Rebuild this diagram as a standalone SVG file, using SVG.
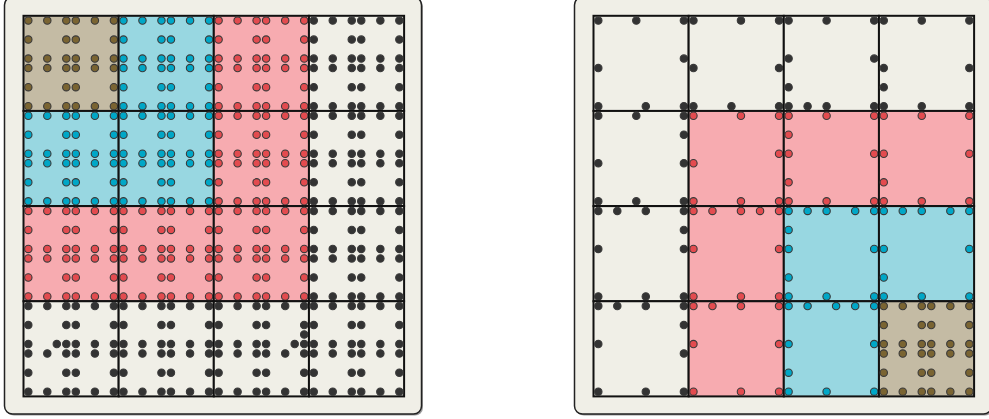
<svg xmlns="http://www.w3.org/2000/svg" xmlns:xlink="http://www.w3.org/1999/xlink" width="989" height="419" viewBox="0 0 989 419">
<style>
.panel{fill:#f0efe7;stroke:#222;stroke-width:1.5}
.shadow{fill:#9a9a9a}
.cell{stroke:#111;stroke-width:2}
.fw{fill:#f0efe7}.fr{fill:#f7abb0}.fb{fill:#98d7e1}.fo{fill:#c4bba4}
.dd{fill:#333}.dr{fill:#e34b4f}.db{fill:#00a7c7}.do{fill:#7a6432}
.pts{stroke:#3a3a3a;stroke-width:1.1}
</style>
<defs>
<g id="fine" class="pts">
<circle cx="4.8" cy="4.8" r="3.7"/><circle cx="23.8" cy="4.8" r="3.7"/><circle cx="42.8" cy="4.8" r="3.7"/><circle cx="52.3" cy="4.8" r="3.7"/><circle cx="71.4" cy="4.8" r="3.7"/><circle cx="90.4" cy="4.8" r="3.7"/>
<circle cx="4.8" cy="23.8" r="3.7"/><circle cx="42.8" cy="23.8" r="3.7"/><circle cx="52.3" cy="23.8" r="3.7"/><circle cx="90.4" cy="23.8" r="3.7"/>
<circle cx="4.8" cy="42.8" r="3.7"/><circle cx="23.8" cy="42.8" r="3.7"/><circle cx="42.8" cy="42.8" r="3.7"/><circle cx="52.3" cy="42.8" r="3.7"/><circle cx="71.4" cy="42.8" r="3.7"/><circle cx="90.4" cy="42.8" r="3.7"/>
<circle cx="4.8" cy="52.3" r="3.7"/><circle cx="23.8" cy="52.3" r="3.7"/><circle cx="42.8" cy="52.3" r="3.7"/><circle cx="52.3" cy="52.3" r="3.7"/><circle cx="71.4" cy="52.3" r="3.7"/><circle cx="90.4" cy="52.3" r="3.7"/>
<circle cx="4.8" cy="71.4" r="3.7"/><circle cx="42.8" cy="71.4" r="3.7"/><circle cx="52.3" cy="71.4" r="3.7"/><circle cx="90.4" cy="71.4" r="3.7"/>
<circle cx="4.8" cy="90.4" r="3.7"/><circle cx="23.8" cy="90.4" r="3.7"/><circle cx="42.8" cy="90.4" r="3.7"/><circle cx="52.3" cy="90.4" r="3.7"/><circle cx="71.4" cy="90.4" r="3.7"/><circle cx="90.4" cy="90.4" r="3.7"/>
</g>
</defs>

<g id="panel-left">
<rect class="shadow" x="6" y="-1.5" width="417" height="417" rx="8"/>
<rect class="panel" x="4.5" y="-3" width="417" height="417" rx="8"/>
</g>
<g id="panel-right">
<rect class="shadow" x="576" y="-1.5" width="417" height="417" rx="8"/>
<rect class="panel" x="574.5" y="-3" width="417" height="417" rx="8"/>
</g>

<g id="left-grid">
<g id="L00" transform="translate(23.5,15.8)"><rect class="cell fo" width="95.15" height="95.15"/><use xlink:href="#fine" class="do"/></g>
<g id="L10" transform="translate(118.65,15.8)"><rect class="cell fb" width="95.15" height="95.15"/><use xlink:href="#fine" class="db"/></g>
<g id="L20" transform="translate(213.8,15.8)"><rect class="cell fr" width="95.15" height="95.15"/><use xlink:href="#fine" class="dr"/></g>
<g id="L30" transform="translate(308.95,15.8)"><rect class="cell fw" width="95.15" height="95.15"/><use xlink:href="#fine" class="dd"/></g>
<g id="L01" transform="translate(23.5,110.95)"><rect class="cell fb" width="95.15" height="95.15"/><use xlink:href="#fine" class="db"/></g>
<g id="L11" transform="translate(118.65,110.95)"><rect class="cell fb" width="95.15" height="95.15"/><use xlink:href="#fine" class="db"/></g>
<g id="L21" transform="translate(213.8,110.95)"><rect class="cell fr" width="95.15" height="95.15"/><use xlink:href="#fine" class="dr"/></g>
<g id="L31" transform="translate(308.95,110.95)"><rect class="cell fw" width="95.15" height="95.15"/><use xlink:href="#fine" class="dd"/></g>
<g id="L02" transform="translate(23.5,206.1)"><rect class="cell fr" width="95.15" height="95.15"/><use xlink:href="#fine" class="dr"/></g>
<g id="L12" transform="translate(118.65,206.1)"><rect class="cell fr" width="95.15" height="95.15"/><use xlink:href="#fine" class="dr"/></g>
<g id="L22" transform="translate(213.8,206.1)"><rect class="cell fr" width="95.15" height="95.15"/><use xlink:href="#fine" class="dr"/></g>
<g id="L32" transform="translate(308.95,206.1)"><rect class="cell fw" width="95.15" height="95.15"/><use xlink:href="#fine" class="dd"/></g>
<g id="L03" transform="translate(23.5,301.25)"><rect class="cell fw" width="95.15" height="95.15"/>
<g class="pts dd">
<circle cx="4.8" cy="4.8" r="3.7"/><circle cx="23.8" cy="4.8" r="3.7"/><circle cx="42.8" cy="4.8" r="3.7"/><circle cx="52.3" cy="4.8" r="3.7"/><circle cx="71.4" cy="4.8" r="3.7"/><circle cx="90.4" cy="4.8" r="3.7"/>
<circle cx="4.8" cy="23.8" r="3.7"/><circle cx="42.8" cy="23.8" r="3.7"/><circle cx="52.3" cy="23.8" r="3.7"/><circle cx="90.4" cy="23.8" r="3.7"/>
<circle cx="4.8" cy="42.8" r="3.7"/><circle cx="33.3" cy="42.8" r="3.7"/><circle cx="42.8" cy="42.8" r="3.7"/><circle cx="52.3" cy="42.8" r="3.7"/><circle cx="71.4" cy="42.8" r="3.7"/><circle cx="90.4" cy="42.8" r="3.7"/>
<circle cx="4.8" cy="52.3" r="3.7"/><circle cx="23.8" cy="52.3" r="3.7"/><circle cx="42.8" cy="52.3" r="3.7"/><circle cx="52.3" cy="52.3" r="3.7"/><circle cx="71.4" cy="52.3" r="3.7"/><circle cx="90.4" cy="52.3" r="3.7"/>
<circle cx="4.8" cy="71.4" r="3.7"/><circle cx="42.8" cy="71.4" r="3.7"/><circle cx="52.3" cy="71.4" r="3.7"/><circle cx="90.4" cy="71.4" r="3.7"/>
<circle cx="4.8" cy="90.4" r="3.7"/><circle cx="23.8" cy="90.4" r="3.7"/><circle cx="42.8" cy="90.4" r="3.7"/><circle cx="52.3" cy="90.4" r="3.7"/><circle cx="71.4" cy="90.4" r="3.7"/><circle cx="90.4" cy="90.4" r="3.7"/>
</g></g>
<g id="L13" transform="translate(118.65,301.25)"><rect class="cell fw" width="95.15" height="95.15"/><use xlink:href="#fine" class="dd"/></g>
<g id="L23" transform="translate(213.8,301.25)"><rect class="cell fw" width="95.15" height="95.15"/>
<g class="pts dd">
<circle cx="4.8" cy="4.8" r="3.7"/><circle cx="23.8" cy="4.8" r="3.7"/><circle cx="42.8" cy="4.8" r="3.7"/><circle cx="52.3" cy="4.8" r="3.7"/><circle cx="71.4" cy="4.8" r="3.7"/><circle cx="90.4" cy="4.8" r="3.7"/>
<circle cx="4.8" cy="23.8" r="3.7"/><circle cx="42.8" cy="23.8" r="3.7"/><circle cx="52.3" cy="23.8" r="3.7"/><circle cx="90.4" cy="23.8" r="3.7"/>
<circle cx="90.4" cy="33.3" r="3.7"/>
<circle cx="4.8" cy="42.8" r="3.7"/><circle cx="23.8" cy="42.8" r="3.7"/><circle cx="42.8" cy="42.8" r="3.7"/><circle cx="52.3" cy="42.8" r="3.7"/><circle cx="80.9" cy="42.8" r="3.7"/><circle cx="90.4" cy="42.8" r="3.7"/>
<circle cx="4.8" cy="52.3" r="3.7"/><circle cx="23.8" cy="52.3" r="3.7"/><circle cx="42.8" cy="52.3" r="3.7"/><circle cx="52.3" cy="52.3" r="3.7"/><circle cx="71.4" cy="52.3" r="3.7"/><circle cx="90.4" cy="52.3" r="3.7"/>
<circle cx="4.8" cy="71.4" r="3.7"/><circle cx="42.8" cy="71.4" r="3.7"/><circle cx="52.3" cy="71.4" r="3.7"/><circle cx="90.4" cy="71.4" r="3.7"/>
<circle cx="4.8" cy="90.4" r="3.7"/><circle cx="23.8" cy="90.4" r="3.7"/><circle cx="42.8" cy="90.4" r="3.7"/><circle cx="52.3" cy="90.4" r="3.7"/><circle cx="71.4" cy="90.4" r="3.7"/><circle cx="90.4" cy="90.4" r="3.7"/>
</g></g>
<g id="L33" transform="translate(308.95,301.25)"><rect class="cell fw" width="95.15" height="95.15"/><use xlink:href="#fine" class="dd"/></g>
</g>

<g id="right-grid">
<g id="R00" transform="translate(593.5,15.8)"><rect class="cell fw" width="95.15" height="95.15"/>
<g class="pts dd"><circle cx="4.8" cy="4.8" r="3.7"/><circle cx="42.8" cy="4.8" r="3.7"/><circle cx="90.4" cy="4.8" r="3.7"/><circle cx="90.4" cy="42.8" r="3.7"/><circle cx="4.8" cy="52.3" r="3.7"/><circle cx="4.8" cy="90.4" r="3.7"/><circle cx="52.3" cy="90.4" r="3.7"/><circle cx="90.4" cy="90.4" r="3.7"/></g></g>
<g id="R10" transform="translate(688.65,15.8)"><rect class="cell fw" width="95.15" height="95.15"/>
<g class="pts dd"><circle cx="4.8" cy="4.8" r="3.7"/><circle cx="52.3" cy="4.8" r="3.7"/><circle cx="90.4" cy="4.8" r="3.7"/><circle cx="4.8" cy="52.3" r="3.7"/><circle cx="90.4" cy="52.3" r="3.7"/><circle cx="4.8" cy="90.4" r="3.7"/><circle cx="42.8" cy="90.4" r="3.7"/><circle cx="90.4" cy="90.4" r="3.7"/></g></g>
<g id="R20" transform="translate(783.8,15.8)"><rect class="cell fw" width="95.15" height="95.15"/>
<g class="pts dd"><circle cx="4.8" cy="4.8" r="3.7"/><circle cx="42.8" cy="4.8" r="3.7"/><circle cx="90.4" cy="4.8" r="3.7"/><circle cx="4.8" cy="42.8" r="3.7"/><circle cx="90.4" cy="42.8" r="3.7"/><circle cx="4.8" cy="71.4" r="3.7"/><circle cx="4.8" cy="90.4" r="3.7"/><circle cx="23.8" cy="90.4" r="3.7"/><circle cx="42.8" cy="90.4" r="3.7"/><circle cx="90.4" cy="90.4" r="3.7"/></g></g>
<g id="R30" transform="translate(878.95,15.8)"><rect class="cell fw" width="95.15" height="95.15"/>
<g class="pts dd"><circle cx="4.8" cy="4.8" r="3.7"/><circle cx="42.8" cy="4.8" r="3.7"/><circle cx="90.4" cy="4.8" r="3.7"/><circle cx="4.8" cy="52.3" r="3.7"/><circle cx="90.4" cy="52.3" r="3.7"/><circle cx="4.8" cy="71.4" r="3.7"/><circle cx="4.8" cy="90.4" r="3.7"/><circle cx="42.8" cy="90.4" r="3.7"/><circle cx="90.4" cy="90.4" r="3.7"/></g></g>

<g id="R01" transform="translate(593.5,110.95)"><rect class="cell fw" width="95.15" height="95.15"/>
<g class="pts dd"><circle cx="4.8" cy="4.8" r="3.7"/><circle cx="42.8" cy="4.8" r="3.7"/><circle cx="90.4" cy="4.8" r="3.7"/><circle cx="90.4" cy="23.8" r="3.7"/><circle cx="4.8" cy="52.3" r="3.7"/><circle cx="90.4" cy="52.3" r="3.7"/><circle cx="4.8" cy="90.4" r="3.7"/><circle cx="42.8" cy="90.4" r="3.7"/><circle cx="90.4" cy="90.4" r="3.7"/></g></g>
<g id="R11" transform="translate(688.65,110.95)"><rect class="cell fr" width="95.15" height="95.15"/>
<g class="pts dr"><circle cx="4.8" cy="4.8" r="3.7"/><circle cx="52.3" cy="4.8" r="3.7"/><circle cx="90.4" cy="4.8" r="3.7"/><circle cx="90.4" cy="42.8" r="3.7"/><circle cx="4.8" cy="52.3" r="3.7"/><circle cx="4.8" cy="90.4" r="3.7"/><circle cx="52.3" cy="90.4" r="3.7"/><circle cx="90.4" cy="90.4" r="3.7"/></g></g>
<g id="R21" transform="translate(783.8,110.95)"><rect class="cell fr" width="95.15" height="95.15"/>
<g class="pts dr"><circle cx="4.8" cy="4.8" r="3.7"/><circle cx="42.8" cy="4.8" r="3.7"/><circle cx="90.4" cy="4.8" r="3.7"/><circle cx="4.8" cy="23.8" r="3.7"/><circle cx="4.8" cy="42.8" r="3.7"/><circle cx="90.4" cy="42.8" r="3.7"/><circle cx="4.8" cy="71.4" r="3.7"/><circle cx="4.8" cy="90.4" r="3.7"/><circle cx="42.8" cy="90.4" r="3.7"/><circle cx="90.4" cy="90.4" r="3.7"/></g></g>
<g id="R31" transform="translate(878.95,110.95)"><rect class="cell fr" width="95.15" height="95.15"/>
<g class="pts dr"><circle cx="4.8" cy="4.8" r="3.7"/><circle cx="42.8" cy="4.8" r="3.7"/><circle cx="90.4" cy="4.8" r="3.7"/><circle cx="4.8" cy="42.8" r="3.7"/><circle cx="90.4" cy="42.8" r="3.7"/><circle cx="4.8" cy="71.4" r="3.7"/><circle cx="4.8" cy="90.4" r="3.7"/><circle cx="42.8" cy="90.4" r="3.7"/><circle cx="90.4" cy="90.4" r="3.7"/></g></g>

<g id="R02" transform="translate(593.5,206.1)"><rect class="cell fw" width="95.15" height="95.15"/>
<g class="pts dd"><circle cx="4.8" cy="4.8" r="3.7"/><circle cx="23.8" cy="4.8" r="3.7"/><circle cx="52.3" cy="4.8" r="3.7"/><circle cx="90.4" cy="4.8" r="3.7"/><circle cx="90.4" cy="23.8" r="3.7"/><circle cx="4.8" cy="42.8" r="3.7"/><circle cx="90.4" cy="42.8" r="3.7"/><circle cx="4.8" cy="90.4" r="3.7"/><circle cx="52.3" cy="90.4" r="3.7"/><circle cx="90.4" cy="90.4" r="3.7"/></g></g>
<g id="R12" transform="translate(688.65,206.1)"><rect class="cell fr" width="95.15" height="95.15"/>
<g class="pts dr"><circle cx="4.8" cy="4.8" r="3.7"/><circle cx="23.8" cy="4.8" r="3.7"/><circle cx="52.3" cy="4.8" r="3.7"/><circle cx="71.4" cy="4.8" r="3.7"/><circle cx="90.4" cy="4.8" r="3.7"/><circle cx="4.8" cy="42.8" r="3.7"/><circle cx="90.4" cy="42.8" r="3.7"/><circle cx="4.8" cy="90.4" r="3.7"/><circle cx="52.3" cy="90.4" r="3.7"/><circle cx="90.4" cy="90.4" r="3.7"/></g></g>
<g id="R22" transform="translate(783.8,206.1)"><rect class="cell fb" width="95.15" height="95.15"/>
<g class="pts db"><circle cx="4.8" cy="4.8" r="3.7"/><circle cx="23.8" cy="4.8" r="3.7"/><circle cx="42.8" cy="4.8" r="3.7"/><circle cx="71.4" cy="4.8" r="3.7"/><circle cx="90.4" cy="4.8" r="3.7"/><circle cx="4.8" cy="23.8" r="3.7"/><circle cx="4.8" cy="42.8" r="3.7"/><circle cx="90.4" cy="42.8" r="3.7"/><circle cx="4.8" cy="71.4" r="3.7"/><circle cx="4.8" cy="90.4" r="3.7"/><circle cx="42.8" cy="90.4" r="3.7"/><circle cx="90.4" cy="90.4" r="3.7"/></g></g>
<g id="R32" transform="translate(878.95,206.1)"><rect class="cell fb" width="95.15" height="95.15"/>
<g class="pts db"><circle cx="4.8" cy="4.8" r="3.7"/><circle cx="23.8" cy="4.8" r="3.7"/><circle cx="42.8" cy="4.8" r="3.7"/><circle cx="71.4" cy="4.8" r="3.7"/><circle cx="90.4" cy="4.8" r="3.7"/><circle cx="4.8" cy="42.8" r="3.7"/><circle cx="90.4" cy="42.8" r="3.7"/><circle cx="4.8" cy="71.4" r="3.7"/><circle cx="4.8" cy="90.4" r="3.7"/><circle cx="42.8" cy="90.4" r="3.7"/><circle cx="90.4" cy="90.4" r="3.7"/></g></g>

<g id="R03" transform="translate(593.5,301.25)"><rect class="cell fw" width="95.15" height="95.15"/>
<g class="pts dd"><circle cx="4.8" cy="4.8" r="3.7"/><circle cx="23.8" cy="4.8" r="3.7"/><circle cx="52.3" cy="4.8" r="3.7"/><circle cx="90.4" cy="4.8" r="3.7"/><circle cx="90.4" cy="23.8" r="3.7"/><circle cx="4.8" cy="42.8" r="3.7"/><circle cx="90.4" cy="52.3" r="3.7"/><circle cx="4.8" cy="90.4" r="3.7"/><circle cx="52.3" cy="90.4" r="3.7"/><circle cx="90.4" cy="90.4" r="3.7"/></g></g>
<g id="R13" transform="translate(688.65,301.25)"><rect class="cell fr" width="95.15" height="95.15"/>
<g class="pts dr"><circle cx="4.8" cy="4.8" r="3.7"/><circle cx="23.8" cy="4.8" r="3.7"/><circle cx="52.3" cy="4.8" r="3.7"/><circle cx="90.4" cy="4.8" r="3.7"/><circle cx="4.8" cy="42.8" r="3.7"/><circle cx="90.4" cy="42.8" r="3.7"/><circle cx="4.8" cy="90.4" r="3.7"/><circle cx="52.3" cy="90.4" r="3.7"/><circle cx="90.4" cy="90.4" r="3.7"/></g></g>
<g id="R23" transform="translate(783.8,301.25)"><rect class="cell fb" width="95.15" height="95.15"/>
<g class="pts db"><circle cx="4.8" cy="4.8" r="3.7"/><circle cx="23.8" cy="4.8" r="3.7"/><circle cx="52.3" cy="4.8" r="3.7"/><circle cx="71.4" cy="4.8" r="3.7"/><circle cx="90.4" cy="4.8" r="3.7"/><circle cx="4.8" cy="42.8" r="3.7"/><circle cx="90.4" cy="42.8" r="3.7"/><circle cx="4.8" cy="71.4" r="3.7"/><circle cx="4.8" cy="90.4" r="3.7"/><circle cx="42.8" cy="90.4" r="3.7"/><circle cx="90.4" cy="90.4" r="3.7"/></g></g>
<g id="R33" transform="translate(878.95,301.25)"><rect class="cell fo" width="95.15" height="95.15"/><use xlink:href="#fine" class="do"/></g>
</g>
</svg>
